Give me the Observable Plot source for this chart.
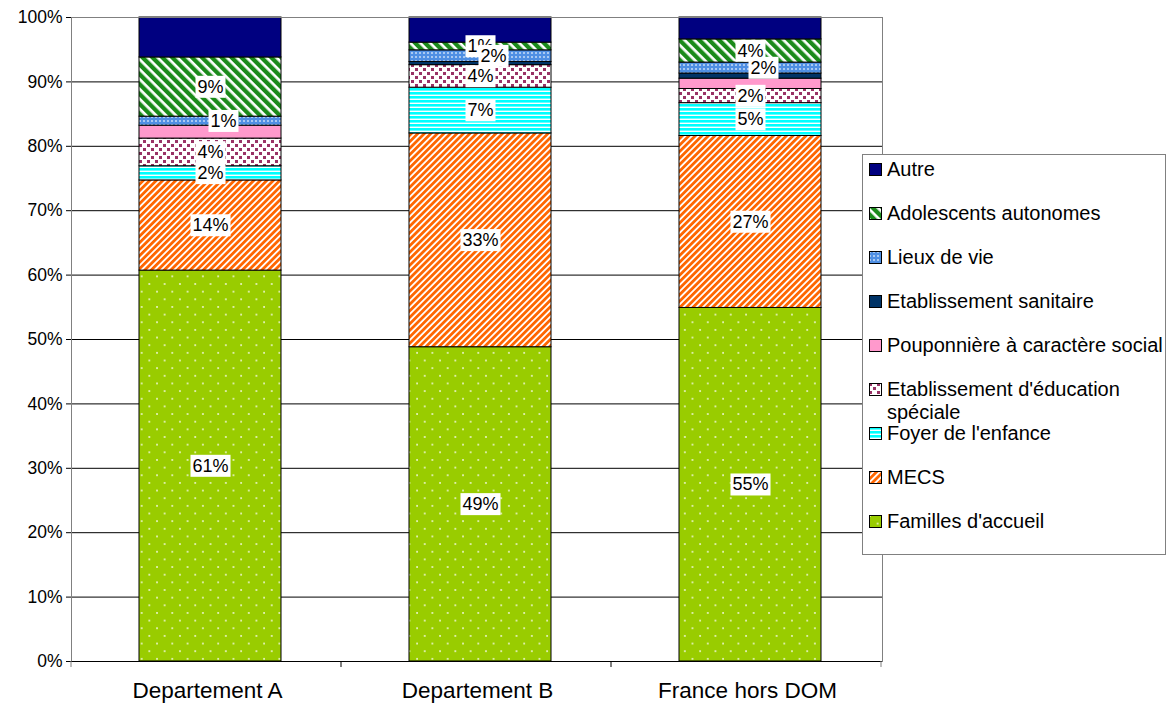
<!DOCTYPE html>
<html>
<head>
<meta charset="utf-8">
<script src="https://cdn.jsdelivr.net/npm/d3@7"></script>
<script src="https://cdn.jsdelivr.net/npm/@observablehq/plot@0.6"></script>
<style>
  html, body { margin: 0; padding: 0; background: #fff; }
  #wrap { position: relative; width: 1169px; height: 711px; font-family: "Liberation Sans", Arial, sans-serif; }
  .chart g[aria-label^="x-axis"] text { font-size: 22.5px; }
  .chart g[aria-label^="y-axis"] text { font-size: 17.5px; }
  #legend { position: absolute; left: 862px; top: 154px; width: 302px; height: 399px; border: 1px solid #808080; background: #fff; }
  .item { position: absolute; left: 6px; white-space: nowrap; font-size: 20px; line-height: 22.5px; color: #000; }
  .item svg { position: absolute; left: 0; top: 5px; }
  .item span { position: absolute; left: 18px; top: 0; }
</style>
</head>
<body>
<svg width="0" height="0" style="position:absolute">
  <defs>
    <pattern id="pFam" patternUnits="userSpaceOnUse" width="15.3" height="15.3">
      <rect width="15.3" height="15.3" fill="#99CC00"/>
      <circle cx="1" cy="1" r="0.9" fill="#fff" opacity="0.9"/>
      <circle cx="8.65" cy="8.65" r="0.9" fill="#fff" opacity="0.9"/>
    </pattern>
    <pattern id="pMecs" patternUnits="userSpaceOnUse" width="4.6" height="4.6" patternTransform="rotate(45)">
      <rect width="4.6" height="4.6" fill="#fff"/>
      <rect width="2.8" height="4.6" fill="#FF6600"/>
    </pattern>
    <pattern id="pFoyer" patternUnits="userSpaceOnUse" width="4" height="4">
      <rect width="4" height="4" fill="#fff"/>
      <rect width="4" height="2.6" fill="#00FFFF"/>
    </pattern>
    <pattern id="pEduc" patternUnits="userSpaceOnUse" width="8" height="8">
      <rect width="8" height="8" fill="#fff"/>
      <rect x="0" y="0" width="3" height="3" fill="#993366"/>
      <rect x="4" y="4" width="3" height="3" fill="#993366"/>
    </pattern>
    <pattern id="pLieux" patternUnits="userSpaceOnUse" width="4" height="4">
      <rect width="4" height="4" fill="#4f8fe3"/>
      <rect x="0" y="0" width="2" height="2" fill="#a9c9f2"/>
    </pattern>
    <pattern id="pAdo" patternUnits="userSpaceOnUse" width="7" height="7" patternTransform="rotate(-45)">
      <rect width="7" height="7" fill="#fff"/>
      <rect width="4.3" height="7" fill="#1a8a1a"/>
    </pattern>
  </defs>
</svg>
<div id="wrap"></div>
<script>
// ---- data ----
const categories = ["Departement A", "Departement B", "France hors DOM"];
const seriesNames = [
  "Familles d'accueil",
  "MECS",
  "Foyer de l'enfance",
  "Etablissement d'éducation spéciale",
  "Pouponnière à caractère social",
  "Etablissement sanitaire",
  "Lieux de vie",
  "Adolescents autonomes",
  "Autre"
];
const familles = [60.7, 48.8, 54.9];
const mecs = [14.0, 33.2, 26.7];
const foyer = [2.2, 7.1, 5.1];
const educ = [4.3, 3.5, 2.2];
const poup = [2.0, 0.0, 1.6];
const sanitaire = [0.0, 0.5, 0.8];
const lieux = [1.4, 1.8, 1.7];
const ados = [9.2, 1.2, 3.6];
const autre = [6.2, 3.9, 3.4];
const seriesValues = [familles, mecs, foyer, educ, poup, sanitaire, lieux, ados, autre];
const labelledSeries = ["Familles d'accueil", "MECS", "Foyer de l'enfance", "Etablissement d'éducation spéciale", "Lieux de vie", "Adolescents autonomes"];
const yTicks = [0, 10, 20, 30, 40, 50, 60, 70, 80, 90, 100];
const yTickLabels = yTicks.map(d => d + "%");
const fills = ["url(#pFam)", "url(#pMecs)", "url(#pFoyer)", "url(#pEduc)", "#FF99CC", "#003366", "url(#pLieux)", "url(#pAdo)", "#000080"];
const legendOrder = [...seriesNames].reverse();

const data = seriesNames.flatMap((s, i) => categories.map((c, j) => ({cat: c, series: s, value: seriesValues[i][j]})));

const labelText = (d) => labelledSeries.includes(d.series) && d.series !== "Lieux de vie" ? Math.round(d.value) + "%" : "";
const lieuxText = (d) => d.series === "Lieux de vie" ? Math.round(d.value) + "%" : "";

function boundaryTicks(index, scales, values, dimensions) {
  const g = d3.create("svg:g").attr("aria-label", "boundary ticks");
  const step = scales.x(categories[1]) - scales.x(categories[0]);
  const yb = dimensions.height - dimensions.marginBottom;
  for (let k = 0; k <= categories.length; k++) {
    const xx = dimensions.marginLeft + k * step;
    g.append("line").attr("x1", xx).attr("x2", xx).attr("y1", yb).attr("y2", yb + 6)
      .attr("stroke", k === 0 || k === categories.length ? "#808080" : "#000");
  }
  return g.node();
}

const chart = Plot.plot({
  width: 1169,
  height: 711,
  marginLeft: 71,
  marginRight: 287,
  marginTop: 17,
  marginBottom: 50,
  className: "chart",
  style: {fontFamily: "'Liberation Sans', Arial, sans-serif", fontSize: "17px", color: "#000", background: "#fff", overflow: "visible"},
  x: {domain: categories, paddingInner: 0.475, paddingOuter: 0.2375, label: null, tickSize: 0, tickPadding: 21},
  y: {domain: [0, 100], ticks: yTicks, tickFormat: d => yTickLabels[yTicks.indexOf(d)], label: null, tickSize: 5, tickPadding: 4},
  color: {domain: seriesNames, range: fills},
  marks: [
    Plot.ruleY(yTicks.filter(d => d > 0 && d < 100), {stroke: "#000", strokeWidth: 1}),
    Plot.barY(data, Plot.stackY({x: "cat", y: "value", z: "series", fill: "series", stroke: "#000", strokeWidth: 1, dx: 3})),
    Plot.frame({stroke: "#808080"}),
    Plot.ruleY([0], {stroke: "#000"}),
    boundaryTicks,
    Plot.text(data, Plot.stackY({x: "cat", y: "value", z: "series", text: labelText, fontSize: 18, fill: "#000", dx: 3})),
    Plot.text(data, Plot.stackY({x: "cat", y: "value", z: "series", text: lieuxText, fontSize: 18, fill: "#000", dx: 16}))
  ]
});

const wrap = document.getElementById("wrap");
wrap.appendChild(chart);

// white boxes behind data labels
chart.querySelectorAll('g[aria-label="text"] text').forEach(t => {
  if (!t.textContent.trim()) { t.remove(); return; }
  const b = t.getBBox();
  const r = document.createElementNS("http://www.w3.org/2000/svg", "rect");
  r.setAttribute("x", b.x - 2);
  r.setAttribute("y", b.y - 1);
  r.setAttribute("width", b.width + 4);
  r.setAttribute("height", b.height + 2);
  r.setAttribute("fill", "#fff");
  if (t.getAttribute("transform")) r.setAttribute("transform", t.getAttribute("transform"));
  t.parentNode.insertBefore(r, t);
});

// legend
const legend = document.createElement("div");
legend.id = "legend";
legendOrder.forEach((s, i) => {
  const item = document.createElement("div");
  item.className = "item";
  item.style.top = (3 + 44 * i) + "px";
  const f = fills[seriesNames.indexOf(s)];
  item.innerHTML = `<svg width="13" height="13"><rect x="0.5" y="0.5" width="12" height="12" fill="${f}" stroke="#000"/></svg>`;
  const span = document.createElement("span");
  if (s === "Etablissement d'éducation spéciale") {
    span.innerHTML = "Etablissement d'éducation<br>spéciale";
  } else {
    span.textContent = s;
  }
  item.appendChild(span);
  legend.appendChild(item);
});
wrap.appendChild(legend);
</script>
</body>
</html>
